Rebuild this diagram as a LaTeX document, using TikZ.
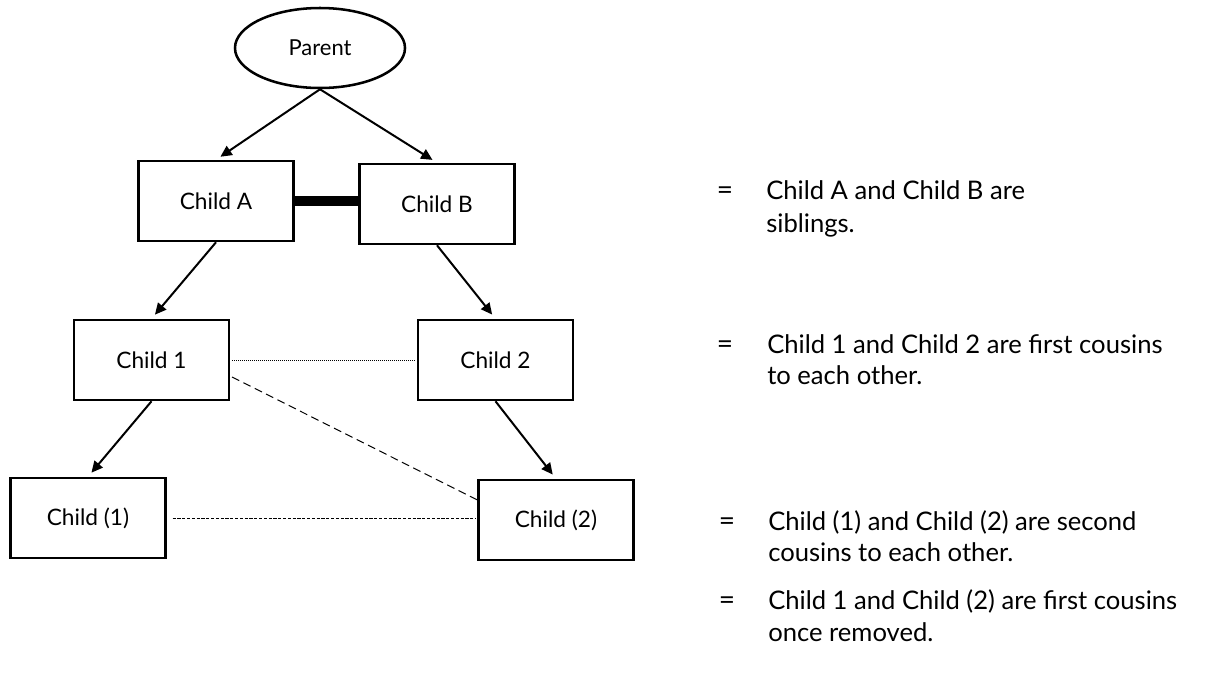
\documentclass[tikz,border=0pt]{standalone}
\usepackage{fontspec}
\setmainfont{Lato}
\usetikzlibrary{arrows.meta,shapes.geometric}
\begin{document}
\begin{tikzpicture}[x=0.75pt,y=-0.75pt,
  box/.style={draw,line width=1.9pt,minimum width=116pt,minimum height=60pt,inner sep=0pt,font=\fontsize{17}{20}\selectfont},
  oval/.style={ellipse,draw,line width=1.9pt,minimum width=127.5pt,minimum height=60pt,inner sep=0pt,font=\fontsize{16.5}{20}\selectfont},
  arr/.style={line width=1.5pt,-{Triangle[length=8.5pt,width=8pt]},shorten >=4pt},
  sib/.style={line width=7.5pt},
  cous/.style={line width=0.75pt,dash pattern=on 0.75pt off 0.75pt,shorten <=1.5pt,shorten >=2pt},
  second/.style={line width=0.75pt,dash pattern=on 2.4pt off 1.2pt,shorten <=4.5pt,shorten >=1.5pt},
  removed/.style={line width=0.75pt,dash pattern=on 6pt off 3.5pt},
  eq/.style={inner sep=0pt,anchor=base,font=\fontsize{21}{25}\selectfont},
  leg/.style={inner sep=0pt,anchor=base west,font=\fontsize{19.2}{23}\selectfont}
]
\useasboundingbox (0,0) rectangle (1206,687);

% nodes
\node[oval] (P)  at (320,48) {Parent};
\node[box]  (A)  at (216,201)  {Child A};
\node[box]  (B)  at (437,204)  {Child B};
\node[box]  (C1) at (151.5,360) {Child 1};
\node[box]  (C2) at (495.5,360) {Child 2};
\node[box]  (D1) at (88,518)  {Child (1)};
\node[box]  (D2) at (556,520) {Child (2)};

% descent arrows
\draw[arr] (P.south) -- (A.north);
\draw[arr] (P.south) -- (B.north);
\draw[arr] (A.south) -- (C1.north);
\draw[arr] (B.south) -- (C2.north);
\draw[arr] (C1.south) -- (D1.north);
\draw[arr] (C2.south) -- (D2.north);

% relations
\draw[sib] (A.east) -- (A.east -| B.west);
\draw[cous] (C1.east) -- (C2.west);
\draw[second] (D1.east) -- (D1.east -| D2.west);
\draw[removed] ([shift={(2,17)}]C1.east) -- ([shift={(0,-20)}]D2.west);

% legend
\node[eq] (e1) at (725,199) {=};
\node[leg] (l1a) at (766,199) {Child A and Child B are};
\node[leg] (l1b) at (766,232) {siblings.};

\node[eq] (e2) at (725,353) {=};
\node[leg] (l2a) at (767,353) {Child 1 and Child 2 are first cousins};
\node[leg] (l2b) at (767,384) {to each other.};

\node[eq] (e3) at (727,530) {=};
\node[leg] (l3a) at (768,530) {Child (1) and Child (2) are second};
\node[leg] (l3b) at (768,561) {cousins to each other.};

\node[eq] (e4) at (727,609) {=};
\node[leg] (l4a) at (768,609) {Child 1 and Child (2) are first cousins};
\node[leg] (l4b) at (768,641) {once removed.};
\end{tikzpicture}
\end{document}
